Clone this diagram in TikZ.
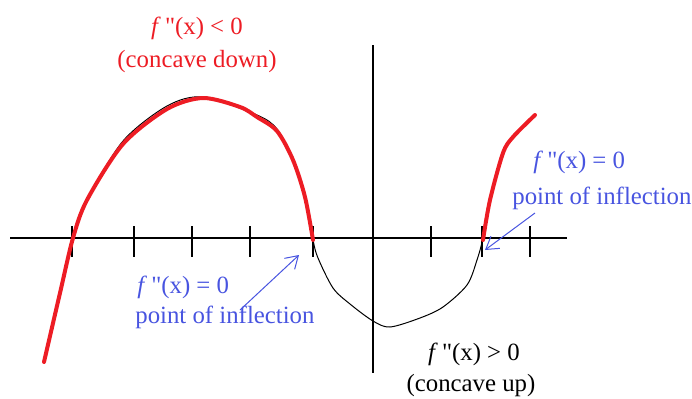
\documentclass[tikz,border=0pt]{standalone}
\usepackage{fontspec}
\setmainfont[Ligatures=TeXOff]{Liberation Serif}
\usetikzlibrary{arrows.meta}
\definecolor{curvered}{RGB}{237,28,36}
\definecolor{inflblue}{RGB}{72,84,224}

\begin{document}
\begin{tikzpicture}[x=0.5pt, y=-0.5pt, >={Straight Barb[length=6pt,width=7.5pt]},
    lbl/.style={font=\fontsize{12.4}{15}\selectfont, inner sep=0pt, anchor=base west}]

    \useasboundingbox (0,0) rectangle (692,398);

    \def\X{238}

    % axis
    \draw[line width=0.7pt] (10,\X) -- (567,\X);
    \draw[line width=0.7pt] (373,45) -- (373,373);

    % ticks
    \foreach \tx in {72,134,192,250,313,431,482,530}{
        \draw[line width=0.7pt] (\tx,\X-12) -- (\tx,\X+19);
    }

    % curve
    \draw[line width=0.5pt] plot[smooth] coordinates {
        (44,362) (60,293) (73,238) (87,200) (123,141) (167,106) (203,97)
        (257,115) (277,129) (293,160) (305,197) (313,240) (318,258)
        (333,288) (350,304) (373,321) (390,327) (420,318) (443,307)
        (467,285) (477,260) (483,238) (490,200) (503,153) (513,137) (535,115)
    };

    % concave down
    \draw[curvered, line width=2pt, line cap=round] plot[smooth] coordinates {
        (44,362) (60,293) (73,238) (87,200) (123,144) (167,109) (203,98)
        (240,107) (257,117) (277,131) (293,160) (305,197) (313,240)
    };
    \draw[curvered, line width=2pt, line cap=round] plot[smooth] coordinates {
        (483,240) (490,200) (503,153) (513,137) (535,115)
    };

    % labels
    \node[lbl, text=curvered, anchor=base] (downtop) at (197,34) {\textit{f}\,"(x) < 0};
    \node[lbl, text=curvered, anchor=base] (downbot) at (197,67) {(concave down)};
    \node[lbl, text=inflblue] (infl1top) at (137,293) {\textit{f}\,"(x) = 0};
    \node[lbl, text=inflblue] (infl1bot) at (135,323) {point of inflection};
    \node[lbl, text=inflblue] (infl2top) at (533,168) {\textit{f}\,"(x) = 0};
    \node[lbl, text=inflblue] (infl2bot) at (512,204) {point of inflection};
    \node[lbl, anchor=base] (uptop) at (474,360) {\textit{f}\,"(x) > 0};
    \node[lbl, anchor=base] (upbot) at (471,391) {(concave up)};

    % arrows
    \coordinate (arr1tail) at (240,310);
    \coordinate (arr1head) at (299,255);
    \coordinate (arr2tail) at (535,213);
    \coordinate (arr2head) at (485,250);
    \draw[->, inflblue, line width=0.5pt] (arr1tail) -- (arr1head);
    \draw[->, inflblue, line width=0.5pt] (arr2tail) -- (arr2head);
\end{tikzpicture}
\end{document}
